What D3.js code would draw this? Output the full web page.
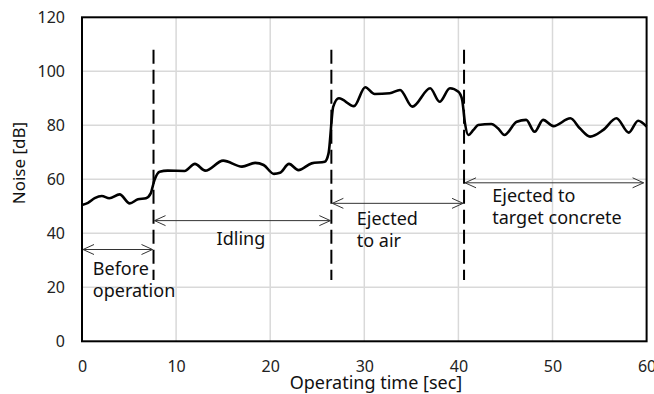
<!DOCTYPE html>
<html>
<head>
<meta charset="utf-8">
<script src="https://cdn.jsdelivr.net/npm/d3@7"></script>
<style>
  body { margin: 0; background: #fff; }
  svg { display: block; font-family: "Noto Sans", "DejaVu Sans", sans-serif; }
</style>
</head>
<body>
<svg id="chart"></svg>
<script>
// operating time [sec] and noise [dB]
let times = [0, 0.64, 1.35, 2.1, 2.9, 4.0, 5.07, 5.95, 6.8, 7.3, 7.7, 8.25, 9.1, 10.9, 12.0, 13.1,
             15.0, 17.0, 18.4, 19.3, 20.4, 21.04, 22.0, 23.0, 24.4, 25.8, 26.2, 26.7, 27.3, 28.9,
             30.1, 31.1, 32.7, 33.8, 35.1, 37.0, 38.0, 39.1, 40.0, 40.4, 40.7, 41.05, 41.6, 42.1,
             43.5, 44.2, 44.9, 46.2, 47.2, 48.1, 49.0, 50.1, 51.9, 52.9, 54.0, 55.4, 56.8, 58.1,
             59.1, 60]
let noise = [50.5, 51.3, 53, 53.8, 53, 54.4, 51.1, 52.6, 53, 54.8, 59.7, 62.8, 63.2, 63.1, 65.7, 63.2,
             66.9, 64.7, 66.1, 65.3, 62, 62.4, 65.7, 63.4, 65.9, 66.5, 69.6, 86.9, 90, 87.1,
             94.1, 91.6, 91.9, 93.1, 86.9, 93.7, 88.7, 93.7, 92.4, 89.4, 80.7, 76.4, 78.3, 80.1,
             80.5, 78.9, 76.4, 81.3, 82, 77.6, 82, 79.7, 82.6, 78.9, 75.8, 78.3, 82.6, 77.3,
             81.7, 79.5]

let xTicks = [0, 10, 20, 30, 40, 50, 60]
let yTicks = [0, 20, 40, 60, 80, 100, 120]

// phase boundaries (dashed lines) and their names
let phaseEdges = [0, 7.6, 26.5, 40.6, 60]
let phaseNames = [["Before", "operation"], ["Idling"], ["Ejected", "to air"], ["Ejected to", "target concrete"]]

let width = 654
let height = 394
let plotLeft = 82, plotRight = 646.6, plotTop = 17.3, plotBottom = 341.3

let svg = d3.select("#chart").attr("width", width).attr("height", height)

let xScale = d3.scaleLinear().domain([0, 60]).range([plotLeft, plotRight])
let yScale = d3.scaleLinear().domain([0, 120]).range([plotBottom, plotTop])

// grid
svg.append("g").selectAll("line")
   .data(xTicks.slice(1, -1))
   .enter().append("line")
   .attr("x1", d => xScale(d)).attr("x2", d => xScale(d))
   .attr("y1", plotTop).attr("y2", plotBottom)
   .attr("stroke", "#d9d9d9").attr("stroke-width", 1.5)

svg.append("g").selectAll("line")
   .data(yTicks.slice(1, -1))
   .enter().append("line")
   .attr("x1", plotLeft).attr("x2", plotRight)
   .attr("y1", d => yScale(d)).attr("y2", d => yScale(d))
   .attr("stroke", "#d9d9d9").attr("stroke-width", 1.5)

// axes (labels only, frame drawn separately)
let xAxis = d3.axisBottom(xScale).tickValues(xTicks).tickSize(0).tickPadding(19).tickFormat(d3.format("d"))
let yAxis = d3.axisLeft(yScale).tickValues(yTicks).tickSize(0).tickPadding(17)

let gx = svg.append("g").attr("transform", "translate(0," + plotBottom + ")").call(xAxis)
let gy = svg.append("g").attr("transform", "translate(" + plotLeft + ",0)").call(yAxis)
gx.select(".domain").remove()
gy.select(".domain").remove()
svg.selectAll(".tick text")
   .style("font-size", "16px")
   .style("font-family", "'Noto Sans', sans-serif")
   .attr("fill", "#222")

// frame
svg.append("rect")
   .attr("x", plotLeft).attr("y", plotTop)
   .attr("width", plotRight - plotLeft).attr("height", plotBottom - plotTop)
   .attr("fill", "none").attr("stroke", "#000").attr("stroke-width", 2)

// noise line
let line = d3.line()
   .x((d, i) => xScale(times[i]))
   .y(d => yScale(d))
   .curve(d3.curveMonotoneX)

svg.append("path")
   .datum(noise)
   .attr("d", line)
   .attr("fill", "none")
   .attr("stroke", "#000")
   .attr("stroke-width", 2.6)
   .attr("stroke-linejoin", "round")

// dashed phase boundaries
svg.append("g").selectAll("line")
   .data(phaseEdges.slice(1, -1))
   .enter().append("line")
   .attr("x1", d => xScale(d)).attr("x2", d => xScale(d))
   .attr("y1", yScale(108)).attr("y2", yScale(22.7))
   .attr("stroke", "#000").attr("stroke-width", 2)
   .attr("stroke-dasharray", "14,6")

// double arrows with labels
let arrowLevels = [34, 44.7, 51.1, 58.7]
let labelSpots = [[1.15, 24.5], [14.3, 35.5], [29.2, 43], [43.6, 51.5]]

let head = (x, y, dir) => {
  let len = 11, half = 5
  return "M" + (x + dir * len) + "," + (y - half) + "L" + x + "," + y + "L" + (x + dir * len) + "," + (y + half)
}

phaseNames.forEach((names, i) => {
  let x1 = xScale(phaseEdges[i]) + 1
  let x2 = xScale(phaseEdges[i + 1]) - (i == 3 ? 3 : 1)
  let y = yScale(arrowLevels[i])
  let g = svg.append("g").attr("stroke", "#333").attr("stroke-width", 1).attr("fill", "none")
  g.append("line").attr("x1", x1).attr("x2", x2).attr("y1", y).attr("y2", y)
  g.append("path").attr("d", head(x1, y, 1))
  g.append("path").attr("d", head(x2, y, -1))

  let t = svg.append("text")
     .attr("x", xScale(labelSpots[i][0]))
     .attr("y", yScale(labelSpots[i][1]))
     .style("font-size", "18px")
     .attr("fill", "#111")
  names.forEach((n, k) => {
    t.append("tspan").attr("x", xScale(labelSpots[i][0])).attr("dy", k == 0 ? 0 : 22).text(n)
  })
})

// axis titles
svg.append("text")
   .attr("x", 376).attr("y", 389)
   .attr("text-anchor", "middle")
   .style("font-size", "18px")
   .attr("fill", "#111")
   .text("Operating time [sec]")

svg.append("text")
   .attr("transform", "translate(25,163) rotate(-90)")
   .attr("text-anchor", "middle")
   .style("font-size", "17px")
   .attr("fill", "#111")
   .text("Noise [dB]")
</script>
</body>
</html>
